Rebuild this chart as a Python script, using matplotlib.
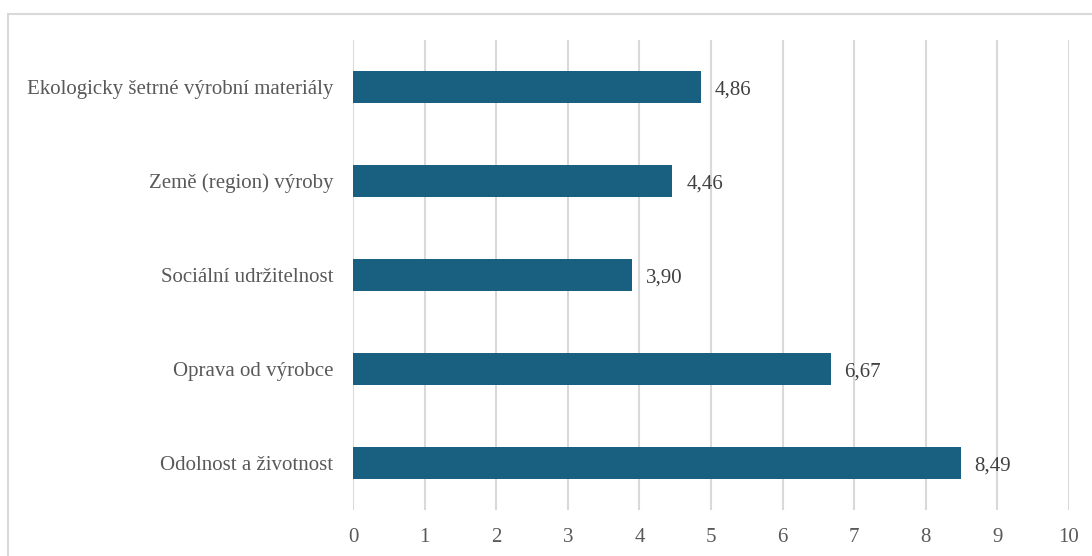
import matplotlib.pyplot as plt
from matplotlib.patches import Rectangle

kategorie = ['Odolnost a životnost', 'Oprava od výrobce', 'Sociální udržitelnost',
             'Země (region) výroby', 'Ekologicky šetrné výrobní materiály']
hodnoty = [8.49, 6.67, 3.90, 4.46, 4.86]

plt.rcParams['font.family'] = ['Liberation Serif', 'DejaVu Serif']

fig = plt.figure(figsize=(10.92, 5.56), dpi=100)
ax = fig.add_axes([0.3233, 0.0827, 0.6556, 0.8453])

# rámeček kolem grafu
fig.patches.append(Rectangle((8 / 1092, -0.1), 1.2, 1 - 14 / 556 + 0.1,
                             transform=fig.transFigure, fill=False,
                             edgecolor='#d9d9d9', linewidth=1.5))

y = range(len(kategorie))
ax.barh(y, hodnoty, height=0.34, color='#185f80', zorder=3)
for i, v in enumerate(hodnoty):
    ax.annotate(f'{v:.2f}'.replace('.', ','), (v, i), xytext=(10, -2),
                textcoords='offset points', va='center', ha='left',
                fontsize=15, color='#404040')

ax.set_xlim(0, 10)
ax.set_ylim(-0.5, len(kategorie) - 0.5)
ax.set_xticks(range(11))
ax.set_yticks(list(y))
ax.set_yticklabels(kategorie)
ax.grid(axis='x', color='#d9d9d9', linewidth=1.5, zorder=0)
ax.tick_params(axis='both', length=0, labelsize=15, colors='#595959')
ax.tick_params(axis='x', pad=13)
ax.tick_params(axis='y', pad=14)
for s in ax.spines.values():
    s.set_visible(False)

plt.savefig('out.png')
